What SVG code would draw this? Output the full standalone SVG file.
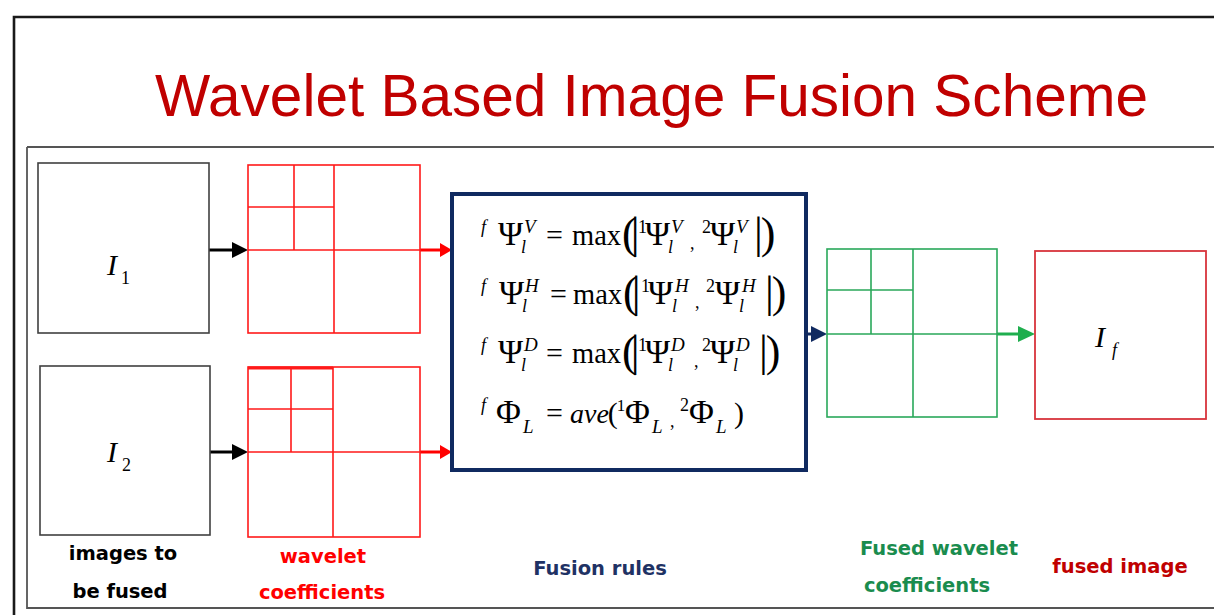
<svg xmlns="http://www.w3.org/2000/svg" width="1214" height="615" viewBox="0 0 1214 615">
<style>
.lbl{font-family:"DejaVu Sans","Liberation Sans",sans-serif;font-weight:bold;font-size:19.5px;text-anchor:middle}
.m{font-family:"Liberation Serif","Times New Roman",serif;font-size:30px;fill:#000}
.g{font-family:"Liberation Serif","Times New Roman",serif;font-size:34px;fill:#000}
.s{font-family:"Liberation Serif","Times New Roman",serif;font-size:18px;fill:#000}
.u{font-family:"Liberation Serif","Times New Roman",serif;font-size:19px;fill:#000;font-style:italic}
.i{font-style:italic}
.big{font-family:"Liberation Serif","Times New Roman",serif;font-size:44px;fill:#000}
.red{fill:none;stroke:#ff1a1a;stroke-width:1.6}
.grn{fill:none;stroke:#2aa85a;stroke-width:1.6}
.img{fill:none;stroke:#404040;stroke-width:1.6}
</style>
<defs>
<marker id="ak" markerUnits="userSpaceOnUse" markerWidth="16" markerHeight="16" refX="4" refY="8" orient="auto"><path d="M0,0 L16,8 L0,16 z" fill="#000"/></marker>
<marker id="ar" markerUnits="userSpaceOnUse" markerWidth="12" markerHeight="16" refX="4" refY="8" orient="auto"><path d="M0,1 L12,8 L0,15 z" fill="#ff0000"/></marker>
<marker id="an" markerUnits="userSpaceOnUse" markerWidth="16" markerHeight="16" refX="4" refY="8" orient="auto"><path d="M0,0 L16,8 L0,16 z" fill="#102a60"/></marker>
<marker id="ag" markerUnits="userSpaceOnUse" markerWidth="17" markerHeight="16" refX="4" refY="8" orient="auto"><path d="M0,0 L17,8 L0,16 z" fill="#1fae4e"/></marker>
</defs>
<rect width="1214" height="615" fill="#fff"/>
<!-- frames -->
<path d="M14,640 V17 H1220" fill="none" stroke="#1a1a1a" stroke-width="2.6"/>
<path d="M27,147 H1220 M27,147 V608 H1220" fill="none" stroke="#555" stroke-width="1.8"/>
<text x="155" y="116" font-family="'Liberation Sans',Arial,sans-serif" font-size="60" fill="#c00000" textLength="993" lengthAdjust="spacingAndGlyphs">Wavelet Based Image Fusion Scheme</text>

<g id="connectors">
<path d="M209,250 H236" stroke="#000" stroke-width="3" marker-end="url(#ak)"/>
<path d="M210,452 H236" stroke="#000" stroke-width="3" marker-end="url(#ak)"/>
<path d="M420,250 H444" stroke="#ff0000" stroke-width="3" marker-end="url(#ar)"/>
<path d="M420,452 H444" stroke="#ff0000" stroke-width="3" marker-end="url(#ar)"/>
<path d="M808,334 H815" stroke="#102a60" stroke-width="3" marker-end="url(#an)"/>
<path d="M997,334 H1022" stroke="#1fae4e" stroke-width="3" marker-end="url(#ag)"/>
</g>

<g id="image1">
<rect class="img" x="38" y="163" width="171" height="170"/>
<text class="m i" x="107" y="275" font-size="35">I</text><text class="s" x="121" y="284" font-size="19">1</text>
</g>
<g id="image2">
<rect class="img" x="40" y="366" width="170" height="169"/>
<text class="m i" x="107" y="462" font-size="35">I</text><text class="s" x="122" y="471" font-size="19">2</text>
</g>
<g id="wavelet1">
<rect class="red" x="248" y="165" width="172" height="168"/>
<path class="red" d="M334,165 V333 M248,250 H420 M294,165 V250 M248,207 H334"/>
</g>
<g id="wavelet2">
<rect class="red" x="248" y="367" width="172" height="170"/>
<path d="M248,368 H333" stroke="#ff1a1a" stroke-width="3"/>
<path class="red" d="M333,367 V537 M248,452 H420 M291,367 V452 M248,409 H333"/>
</g>
<g id="labels-left">
<text class="lbl" x="123" y="560" fill="#000">images to</text>
<text class="lbl" x="120" y="598" fill="#000">be fused</text>
<text class="lbl" x="323" y="563" fill="#ff0000">wavelet</text>
<text class="lbl" x="322" y="599" fill="#ff0000">coefficients</text>
</g>

<g id="fusion-rules">
<rect x="452" y="194" width="354" height="276" fill="none" stroke="#102a60" stroke-width="4"/>
<!-- eq1 -->
<text class="s i" x="481" y="233">f</text><text class="g" x="498" y="245">Ψ</text><text class="u" x="524" y="233">V</text><text class="s i" x="521" y="253">l</text>
<text class="m" x="546" y="245">=</text><text class="m" x="572" y="245" textLength="49" lengthAdjust="spacingAndGlyphs">max</text>
<text class="big" x="622" y="248" letter-spacing="-6">(|</text>
<text class="s" x="638" y="233">1</text><text class="g" x="645" y="245">Ψ</text><text class="u" x="671" y="233">V</text><text class="s i" x="668" y="253">l</text>
<text class="s" x="690" y="249" font-size="22">,</text>
<text class="s" x="702" y="233">2</text><text class="g" x="710" y="245">Ψ</text><text class="u" x="736" y="233">V</text><text class="s i" x="733" y="253">l</text>
<text class="big" x="754" y="248" letter-spacing="-2">|)</text>
<!-- eq2 -->
<text class="s i" x="481" y="292">f</text><text class="g" x="499" y="304">Ψ</text><text class="u" x="525" y="292">H</text><text class="s i" x="522" y="312">l</text>
<text class="m" x="550" y="304">=</text><text class="m" x="573" y="304" textLength="49" lengthAdjust="spacingAndGlyphs">max</text>
<text class="big" x="623" y="307" letter-spacing="-6">(|</text>
<text class="s" x="641" y="292">1</text><text class="g" x="648" y="304">Ψ</text><text class="u" x="675" y="292">H</text><text class="s i" x="672" y="312">l</text>
<text class="s" x="695" y="308" font-size="22">,</text>
<text class="s" x="706" y="292">2</text><text class="g" x="715" y="304">Ψ</text><text class="u" x="742" y="292">H</text><text class="s i" x="739" y="312">l</text>
<text class="big" x="765" y="307" letter-spacing="-2">|)</text>
<!-- eq3 -->
<text class="s i" x="481" y="351">f</text><text class="g" x="498" y="363">Ψ</text><text class="u" x="524" y="351">D</text><text class="s i" x="521" y="371">l</text>
<text class="m" x="546" y="363">=</text><text class="m" x="572" y="363" textLength="49" lengthAdjust="spacingAndGlyphs">max</text>
<text class="big" x="622" y="366" letter-spacing="-6">(|</text>
<text class="s" x="638" y="351">1</text><text class="g" x="645" y="363">Ψ</text><text class="u" x="671" y="351">D</text><text class="s i" x="668" y="371">l</text>
<text class="s" x="694" y="367" font-size="22">,</text>
<text class="s" x="702" y="351">2</text><text class="g" x="710" y="363">Ψ</text><text class="u" x="736" y="351">D</text><text class="s i" x="733" y="371">l</text>
<text class="big" x="759" y="366" letter-spacing="-2">|)</text>
<!-- eq4 -->
<text class="s i" x="481" y="411">f</text><text class="g" x="496" y="423">Φ</text><text class="u" x="523" y="433">L</text>
<text class="m" x="546" y="423">=</text>
<text class="m" x="570" y="423"><tspan font-style="italic" font-size="28">ave</tspan><tspan dx="-1">(</tspan><tspan font-size="17" dy="-12" dx="-1">1</tspan></text>
<text class="g" x="625" y="423">Φ</text><text class="u" x="652" y="433">L</text>
<text class="s" x="670" y="427" font-size="22">,</text>
<text class="s" x="680" y="411">2</text><text class="g" x="689" y="423">Φ</text><text class="u" x="716" y="433">L</text>
<text class="m" x="734" y="423">)</text>
<text class="lbl" x="600" y="575" fill="#1f3264">Fusion rules</text>
</g>

<g id="fused-coefficients">
<rect class="grn" x="827" y="249" width="170" height="168"/>
<path class="grn" d="M913,249 V417 M827,334 H997 M871,249 V334 M827,290 H913"/>
<text class="lbl" x="939" y="555" fill="#1a8c4e">Fused wavelet</text>
<text class="lbl" x="927" y="592" fill="#1a8c4e">coefficients</text>
</g>

<g id="fused-image">
<rect x="1035" y="251" width="171" height="168" fill="none" stroke="#d8343c" stroke-width="1.8"/>
<text class="m i" x="1095" y="347" font-size="35">I</text><text class="s i" x="1112" y="356" font-size="20">f</text>
<text class="lbl" x="1120" y="573" fill="#c00000">fused image</text>
</g>
</svg>
